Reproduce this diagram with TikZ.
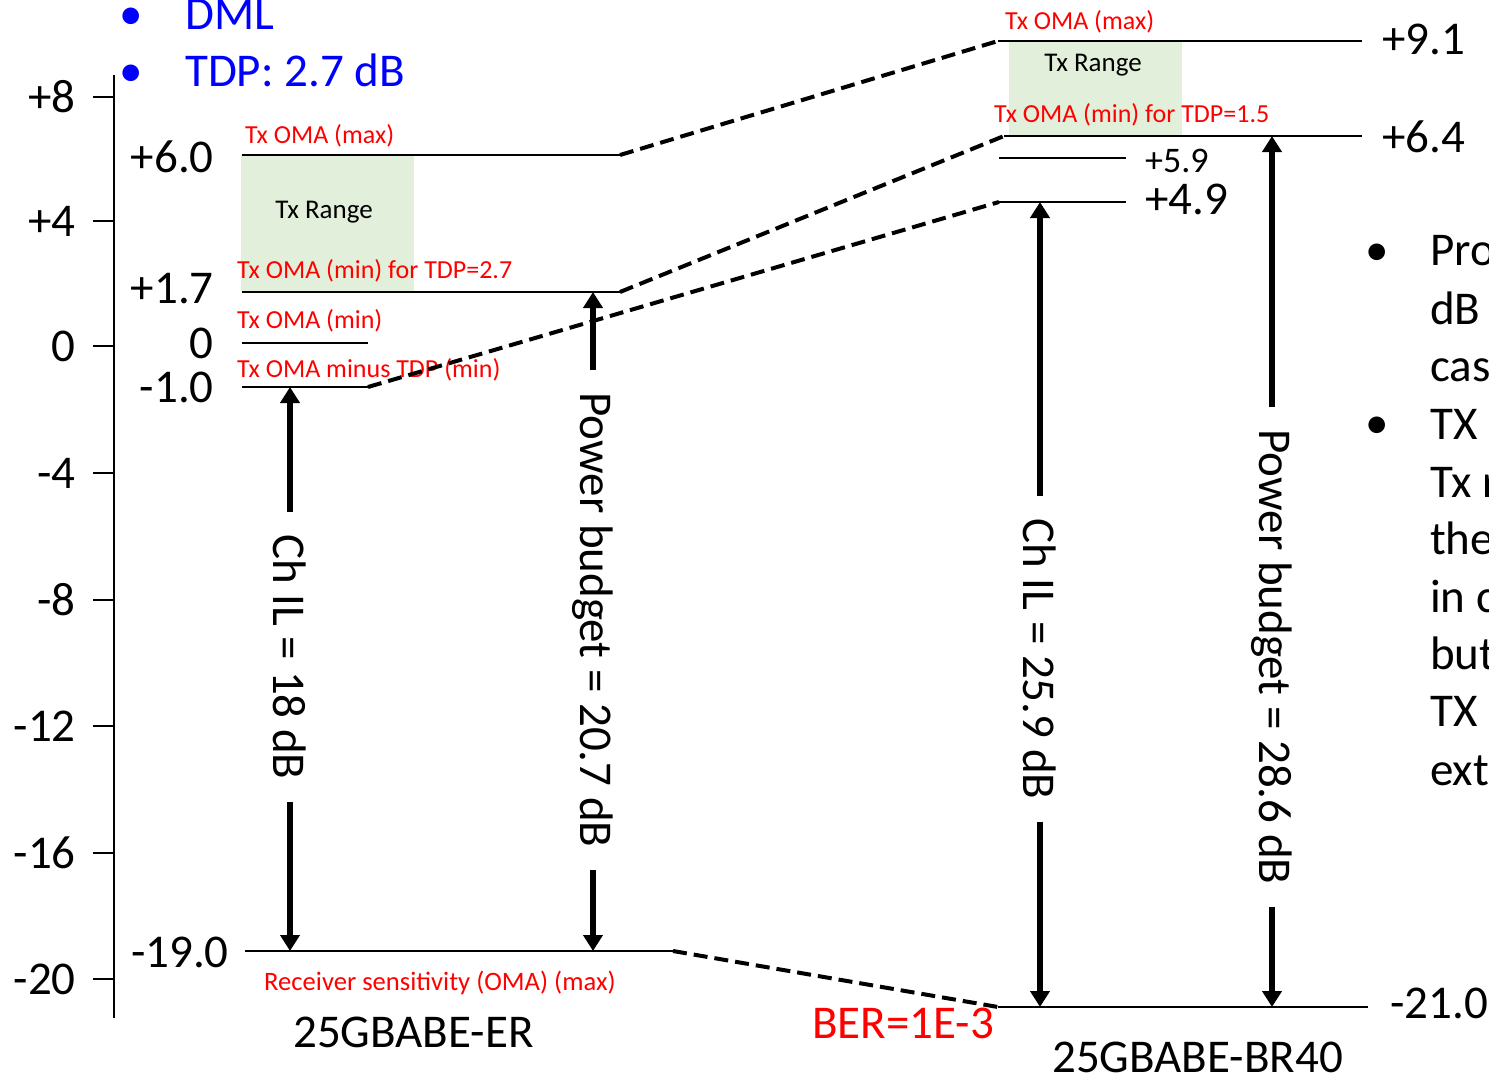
\documentclass[tikz,border=0pt]{standalone}
\usepackage{fontspec}
\setmainfont{Carlito}
\usetikzlibrary{arrows.meta}
\definecolor{txred}{HTML}{FF0000}
\definecolor{txblue}{HTML}{0000FF}
\definecolor{rangegreen}{HTML}{E2EFDA}
\tikzset{
  big/.style={font=\fontsize{47}{56}\selectfont, inner sep=0pt},
  mid/.style={font=\fontsize{36}{43}\selectfont, inner sep=0pt},
  redlbl/.style={font=\fontsize{26}{31}\selectfont, text=txred, inner sep=0pt},
  rxlbl/.style={font=\fontsize{26.6}{31}\selectfont, text=txred, inner sep=0pt},
  rangelbl/.style={font=\fontsize{27}{32}\selectfont, inner sep=0pt},
  level/.style={line width=2.5pt},
  link/.style={line width=4pt, dash pattern=on 14pt off 7pt},
  axisline/.style={line width=2.8pt},
  tickmark/.style={line width=2.5pt},
  budget/.style={line width=6pt, -{Triangle[length=16pt,width=19pt]}},
  vlab/.style={font=\fontsize{47}{56}\selectfont, rotate=-90, inner xsep=22pt, inner ysep=0pt},
  rangebox/.style={fill=rangegreen, draw=none}
}
\begin{document}
\begin{tikzpicture}[x=1pt, y=-1pt]
\useasboundingbox (0,0) rectangle (1489,1081);
\clip (0,0) rectangle (1489,1081);

% ---------- vertical axis with ticks ----------
\coordinate (axtop) at (114,75);
\coordinate (axbot) at (114,1018);
\draw[axisline] (axtop) -- (axbot);
\foreach \v/\yy [count=\i] in {+8/97, +4/221, 0/346, -4/473, -8/600, -12/726, -16/853, -20/979} {
  \coordinate (tk\i a) at (93,\yy);
  \coordinate (tk\i b) at (114,\yy);
  \draw[tickmark] (tk\i a) -- (tk\i b);
  \node[big, anchor=base east] (tl\i) at (76,\yy+15) {\v};
}

% ---------- blue header bullets ----------
\node[big, text=txblue, anchor=base] (bh1) at (131,30) {•};
\node[big, text=txblue, anchor=base west] (h1) at (185,30) {DML};
\node[big, text=txblue, anchor=base] (bh2) at (131,86) {•};
\node[big, text=txblue, anchor=base west] (h2) at (185,86) {TDP: 2.7 dB};

% ---------- 25GBASE-ER column ----------
\fill[rangebox] (241,155) rectangle (414,292);
\coordinate (erMaxL) at (242,155);   \coordinate (erMaxR) at (620,155);
\coordinate (erMinTL) at (242,292);  \coordinate (erMinTR) at (620,292);
\coordinate (erZeroL) at (242,343);  \coordinate (erZeroR) at (368,343);
\coordinate (erTdpL) at (242,387);   \coordinate (erTdpR) at (368,387);
\coordinate (erRxL) at (245,951);    \coordinate (erRxR) at (673,951);
\draw[level] (erMaxL) -- (erMaxR);
\draw[level] (erMinTL) -- (erMinTR);
\draw[level] (erZeroL) -- (erZeroR);
\draw[level] (erTdpL) -- (erTdpR);
\draw[level] (erRxL) -- (erRxR);

\node[big, anchor=base east] (v60) at (214,172) {+6.0};
\node[big, anchor=base east] (v17) at (214,303) {+1.7};
\node[big, anchor=base east] (v00) at (214,358) {0};
\node[big, anchor=base east] (v10) at (214,402) {-1.0};
\node[big, anchor=base east] (v190) at (229,967) {-19.0};

\node[redlbl, anchor=base west] (erMaxT) at (245,143) {Tx OMA (max)};
\node[rangelbl, anchor=base] (erRange) at (324,218) {Tx Range};
\node[redlbl, anchor=base west] (erMinT) at (237,278) {Tx OMA (min) for TDP=2.7};
\node[redlbl, anchor=base west] (erMin0) at (237,328) {Tx OMA (min)};
\node[redlbl, anchor=base west] (erTdpT) at (237,377) {Tx OMA minus TDP (min)};
\node[rxlbl, anchor=base west] (erRxT) at (264,990) {Receiver sensitivity (OMA) (max)};
\node[big, anchor=base west] (erName) at (293,1047) {25GBABE-ER};

% ER budget arrows
\coordinate (il18top) at (290,387);  \coordinate (il18bot) at (290,951);
\node[vlab] (il18) at (290,657) {Ch IL = 18 dB};
\draw[budget] (il18.west) -- (il18top);
\draw[budget] (il18.east) -- (il18bot);

\coordinate (pb207top) at (593,292); \coordinate (pb207bot) at (593,951);
\node[vlab] (pb207) at (593,620) {Power budget = 20.7 dB};
\draw[budget] (pb207.west) -- (pb207top);
\draw[budget] (pb207.east) -- (pb207bot);

% ---------- 25GBASE-BR40 column ----------
\fill[rangebox] (1009,42) rectangle (1182,136);
\coordinate (brMaxL) at (998,41);    \coordinate (brMaxR) at (1362,41);
\coordinate (brMinTL) at (1004,136); \coordinate (brMinTR) at (1362,136);
\coordinate (br59L) at (999,158);    \coordinate (br59R) at (1126,158);
\coordinate (br49L) at (999,202);    \coordinate (br49R) at (1126,202);
\coordinate (brRxL) at (998,1007);   \coordinate (brRxR) at (1368,1007);
\draw[level] (brMaxL) -- (brMaxR);
\draw[level] (brMinTL) -- (brMinTR);
\draw[level] (br59L) -- (br59R);
\draw[level] (br49L) -- (br49R);
\draw[level] (brRxL) -- (brRxR);

\node[redlbl, anchor=base west] (brMaxT) at (1005,30) {Tx OMA (max)};
\node[rangelbl, anchor=base] (brRange) at (1093,72) {Tx Range};
\node[redlbl, anchor=base west] (brMinT) at (994,122) {Tx OMA (min) for TDP=1.5};
\node[big, anchor=base west] (v91) at (1382,55) {+9.1};
\node[big, anchor=base west] (v64) at (1382,152) {+6.4};
\node[mid, anchor=base west] (v59) at (1145,172) {+5.9};
\node[big, anchor=base west] (v49) at (1145,214) {+4.9};
\node[big, anchor=base west] (v210) at (1390,1018) {-21.0};
\node[big, anchor=base west] (brName) at (1052,1072) {25GBABE-BR40};
\node[big, text=txred, anchor=base west] (ber) at (812,1038) {BER=1E-3};

% BR40 budget arrows
\coordinate (il259top) at (1040,202); \coordinate (il259bot) at (1040,1007);
\node[vlab] (il259) at (1040,659) {Ch IL = 25.9 dB};
\draw[budget] (il259.west) -- (il259top);
\draw[budget] (il259.east) -- (il259bot);

\coordinate (pb286top) at (1272,136); \coordinate (pb286bot) at (1272,1007);
\node[vlab] (pb286) at (1272,657) {Power budget = 28.6 dB};
\draw[budget] (pb286.west) -- (pb286top);
\draw[budget] (pb286.east) -- (pb286bot);

% ---------- dashed links between the two columns ----------
\draw[link] (erMaxR) -- (brMaxL);
\draw[link] (erMinTR) -- (brMinTL);
\draw[link] (erTdpR) -- (br49L);
\draw[link] (erRxR) -- (brRxL);

% ---------- side notes ----------
\node[big, anchor=base] (nb1) at (1377,265) {•};
\node[big, anchor=base] (nb2) at (1377,438) {•};
\foreach \t/\yy [count=\i] in {Pro/265, dB/324, cas/381, TX/439, Tx r/497, the/554, in c/612, but/669, TX/726, ext/785} {
  \node[big, anchor=base west] (note\i) at (1430,\yy) {\t};
}
\end{tikzpicture}
\end{document}
